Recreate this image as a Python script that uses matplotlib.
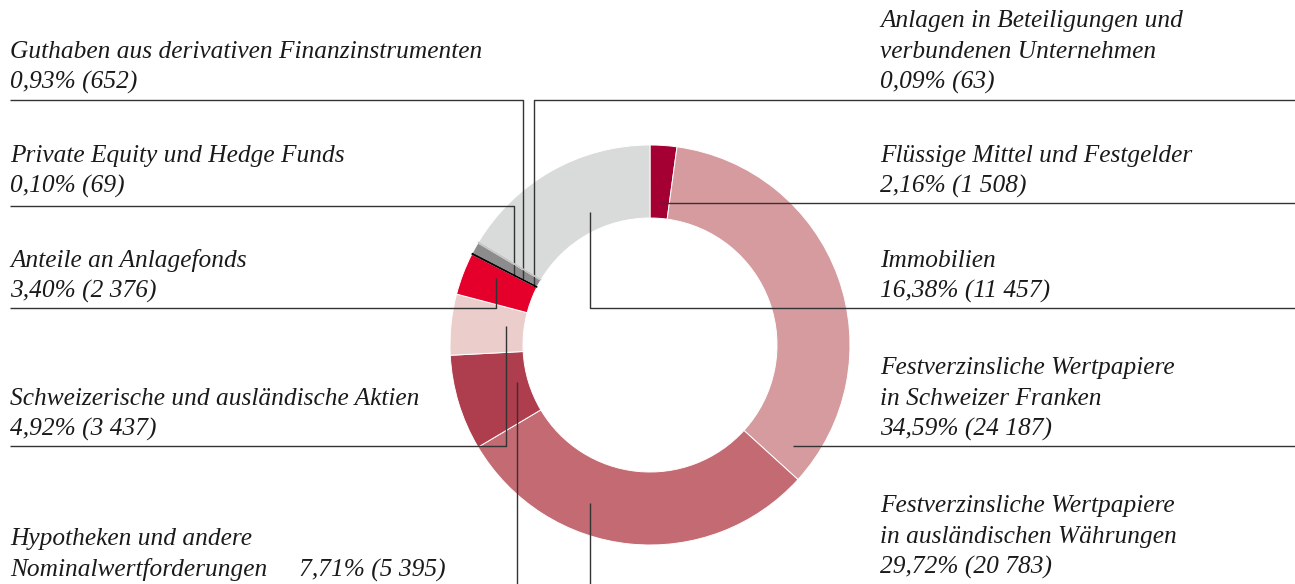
import matplotlib.pyplot as plt

# values in Mio. CHF, clockwise from the top of the ring
names = [
    "Flüssige Mittel und Festgelder",
    "Festverzinsliche Wertpapiere\nin Schweizer Franken",
    "Festverzinsliche Wertpapiere\nin ausländischen Währungen",
    "Hypotheken und andere\nNominalwertforderungen",
    "Schweizerische und ausländische Aktien",
    "Anteile an Anlagefonds",
    "Private Equity und Hedge Funds",
    "Guthaben aus derivativen Finanzinstrumenten",
    "Anlagen in Beteiligungen und\nverbundenen Unternehmen",
    "Immobilien",
]
shares = [2.16, 34.59, 29.72, 7.71, 4.92, 3.40, 0.10, 0.93, 0.09, 16.38]
amounts = [1508, 24187, 20783, 5395, 3437, 2376, 69, 652, 63, 11457]
colors = ["#A50034", "#D69B9E", "#C46A72", "#AE3D4D", "#EBCDCC",
          "#E4002B", "#000000", "#8C8C8C", "#C4C4C4", "#D9DBDA"]

# label placement in pixels: text x, baseline of last line, leader path
layout = [
    (880, 193, [(1295, 203), (660, 203)]),
    (880, 436, [(1295, 446), (793, 446)]),
    (880, 574, [(590, 503), (590, 584)]),
    (10, 576, [(517, 382), (517, 584)]),
    (10, 436, [(10, 446), (506, 446), (506, 326)]),
    (10, 298, [(10, 308), (496, 308), (496, 278)]),
    (10, 193, [(10, 206), (514, 206), (514, 276)]),
    (10, 89, [(10, 100), (523, 100), (523, 279)]),
    (880, 89, [(1295, 100), (534, 100), (534, 287)]),
    (880, 298, [(1295, 308), (590, 308), (590, 212)]),
]


def fmt(share, amount):
    pct = f"{share:.2f}".replace(".", ",")
    amt = f"{amount:,}".replace(",", " ")
    return f"{pct}% ({amt})"


fig = plt.figure(figsize=(12.95, 5.84), dpi=100)
ax = fig.add_axes([0, 0, 1, 1])

wedges, _ = ax.pie(amounts, colors=colors, startangle=-90, counterclock=True,
                   center=(650, 345), radius=200, frame=True,
                   wedgeprops=dict(width=73, edgecolor="white", linewidth=0.7))
# the tiny slices get an outline in their own colour so they stay visible
for w, s, c in zip(wedges, shares, colors):
    if s < 0.5:
        w.set_edgecolor(c)
        w.set_linewidth(0.6)
        w.set_zorder(3)
ax.set_xlim(0, 1295)
ax.set_ylim(584, 0)
ax.axis("off")

font = dict(family="Liberation Serif", style="italic", size=18.3, color="#1a1a1a")
step = 31
for name, share, amount, (tx, ty, path) in zip(names, shares, amounts, layout):
    lines = name.split("\n")
    if name.startswith("Hypotheken"):
        lines[-1] = lines[-1] + "     " + fmt(share, amount)
    else:
        lines.append(fmt(share, amount))
    n = len(lines)
    for i, line in enumerate(lines):
        ax.text(tx, ty - (n - 1 - i) * step, line, va="baseline", ha="left", **font)
    xs = [p[0] for p in path]
    ys = [p[1] for p in path]
    ax.plot(xs, ys, color="#333333", lw=1.0, solid_capstyle="butt")

plt.savefig("out.png", dpi=100)
